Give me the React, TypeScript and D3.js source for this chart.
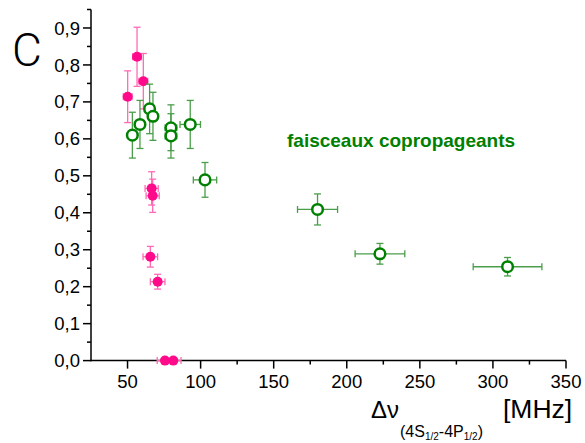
import React from "react";
import * as d3 from "d3";

const pinkX = [50.1, 56.5, 60.8, 66.5, 67.2, 65.6, 70.6, 75.6, 81.3];
const pinkY = [0.714, 0.822, 0.756, 0.466, 0.446, 0.281, 0.2135, 0.0, 0.0];
const pinkErrX = [3, 3, 3, 4.5, 4.5, 5, 5, 5.3, 5.3];
const pinkErrY = [0.07, 0.08, 0.075, 0.045, 0.045, 0.028, 0.02, 0, 0];

const greenX = [53.3, 58.5, 65.1, 67.4, 79.7, 79.7, 92.9, 103, 180, 222.7, 310];
const greenY = [0.61, 0.639, 0.681, 0.661, 0.63, 0.608, 0.639, 0.489, 0.409, 0.289, 0.254];
const greenErrX = [2, 2, 2, 3, 4, 4, 7, 8, 13.7, 17, 23.5];
const greenErrY = [0.062, 0.065, 0.067, 0.065, 0.062, 0.06, 0.065, 0.047, 0.042, 0.028, 0.025];

const xMajorTicks = [50, 100, 150, 200, 250, 300, 350];
const xMinorTicks = [75, 125, 175, 225, 275, 325];
const yMajorTicks = [0, 0.1, 0.2, 0.3, 0.4, 0.5, 0.6, 0.7, 0.8, 0.9];
const yMinorTicks = [0.05, 0.15, 0.25, 0.35, 0.45, 0.55, 0.65, 0.75, 0.85, 0.95];

const W = 585;
const H = 443;
const FONT = "Arial, 'Liberation Sans', sans-serif";
const PINK = "#ff0a8a";
const PINK_ERR = "#ff6ab4";
const GREEN = "#008000";
const GREEN_ERR = "#4a9e4a";

export default function App() {
  const x = d3.scaleLinear().domain([25, 350]).range([91, 566]);
  const y = d3.scaleLinear().domain([0, 0.95]).range([360.6, 9.5]);
  const fmt = (v: number) => v.toFixed(1).replace(".", ",");

  const errBars = (
    xs: number[],
    ys: number[],
    ex: number[],
    ey: number[],
    color: string,
    key: string
  ) =>
    xs.map((xv, i) => {
      const cx = x(xv);
      const cy = y(ys[i]);
      const x0 = x(xv - ex[i]);
      const x1 = x(xv + ex[i]);
      const y0 = y(ys[i] - ey[i]);
      const y1 = y(ys[i] + ey[i]);
      const c = 3.5;
      return (
        <g key={key + i} stroke={color} strokeWidth={1.3} fill="none">
          <line x1={x0} x2={x1} y1={cy} y2={cy} />
          <line x1={x0} x2={x0} y1={cy - c} y2={cy + c} />
          <line x1={x1} x2={x1} y1={cy - c} y2={cy + c} />
          {ey[i] > 0 && (
            <>
              <line x1={cx} x2={cx} y1={y0} y2={y1} />
              <line x1={cx - c} x2={cx + c} y1={y0} y2={y0} />
              <line x1={cx - c} x2={cx + c} y1={y1} y2={y1} />
            </>
          )}
        </g>
      );
    });

  return (
    <svg
      width={W}
      height={H}
      style={{ position: "absolute", left: 0, top: 0, background: "#fff" }}
      fontFamily={FONT}
    >
      <rect x={0} y={0} width={W} height={H} fill="#fff" />
      {/* Panel letter */}
      <text
        x={12}
        y={66}
        fontSize={46}
        fontWeight={300}
        fill="#000"
        fontFamily="Roboto, 'Open Sans', Lato, sans-serif"
      >
        C
      </text>

      {/* Axes */}
      <g stroke="#000" strokeWidth={1.5}>
        <line x1={91} x2={91} y1={y(0.95)} y2={y(0) + 0.75} />
        <line x1={90.25} x2={x(350)} y1={y(0)} y2={y(0)} />
        {yMajorTicks.map((t) => (
          <line key={"ym" + t} x1={83} x2={91} y1={y(t)} y2={y(t)} />
        ))}
        {yMinorTicks.map((t) => (
          <line key={"yn" + t} x1={87} x2={91} y1={y(t)} y2={y(t)} />
        ))}
        {xMajorTicks.map((t) => (
          <line key={"xm" + t} x1={x(t)} x2={x(t)} y1={y(0)} y2={y(0) + 8} />
        ))}
        {xMinorTicks.map((t) => (
          <line key={"xn" + t} x1={x(t)} x2={x(t)} y1={y(0)} y2={y(0) + 4} />
        ))}
      </g>
      <g fontSize={18.5} fill="#000">
        {yMajorTicks.map((t) => (
          <text key={"yl" + t} x={80} y={y(t) + 6.6} textAnchor="end">
            {fmt(t)}
          </text>
        ))}
        {xMajorTicks.map((t) => (
          <text key={"xl" + t} x={x(t)} y={388} textAnchor="middle">
            {t}
          </text>
        ))}
      </g>

      {/* X axis label */}
      <text x={371} y={418} fontSize={24} fill="#000">
        Δν
      </text>
      <text x={400} y={437} fontSize={16} fill="#000">
        (4S
        <tspan fontSize={10} dy={3}>1/2</tspan>
        <tspan dy={-3}>-4P</tspan>
        <tspan fontSize={10} dy={3}>1/2</tspan>
        <tspan dy={-3}>)</tspan>
      </text>
      <text x={503} y={418} fontSize={26.5} fill="#000">
        [MHz]
      </text>

      {/* Annotation */}
      <text x={287} y={147} fontSize={19} fontWeight="bold" fill={GREEN}>
        faisceaux copropageants
      </text>

      {/* Pink series */}
      {errBars(pinkX, pinkY, pinkErrX, pinkErrY, PINK_ERR, "pe")}
      {pinkX.map((xv, i) => (
        <circle key={"pc" + i} cx={x(xv)} cy={y(pinkY[i])} r={5} fill={PINK} />
      ))}

      {/* Green series */}
      {errBars(greenX, greenY, greenErrX, greenErrY, GREEN_ERR, "ge")}
      {greenX.map((xv, i) => (
        <circle
          key={"gc" + i}
          cx={x(xv)}
          cy={y(greenY[i])}
          r={5.3}
          fill="#fff"
          stroke={GREEN}
          strokeWidth={2.5}
        />
      ))}
    </svg>
  );
}
